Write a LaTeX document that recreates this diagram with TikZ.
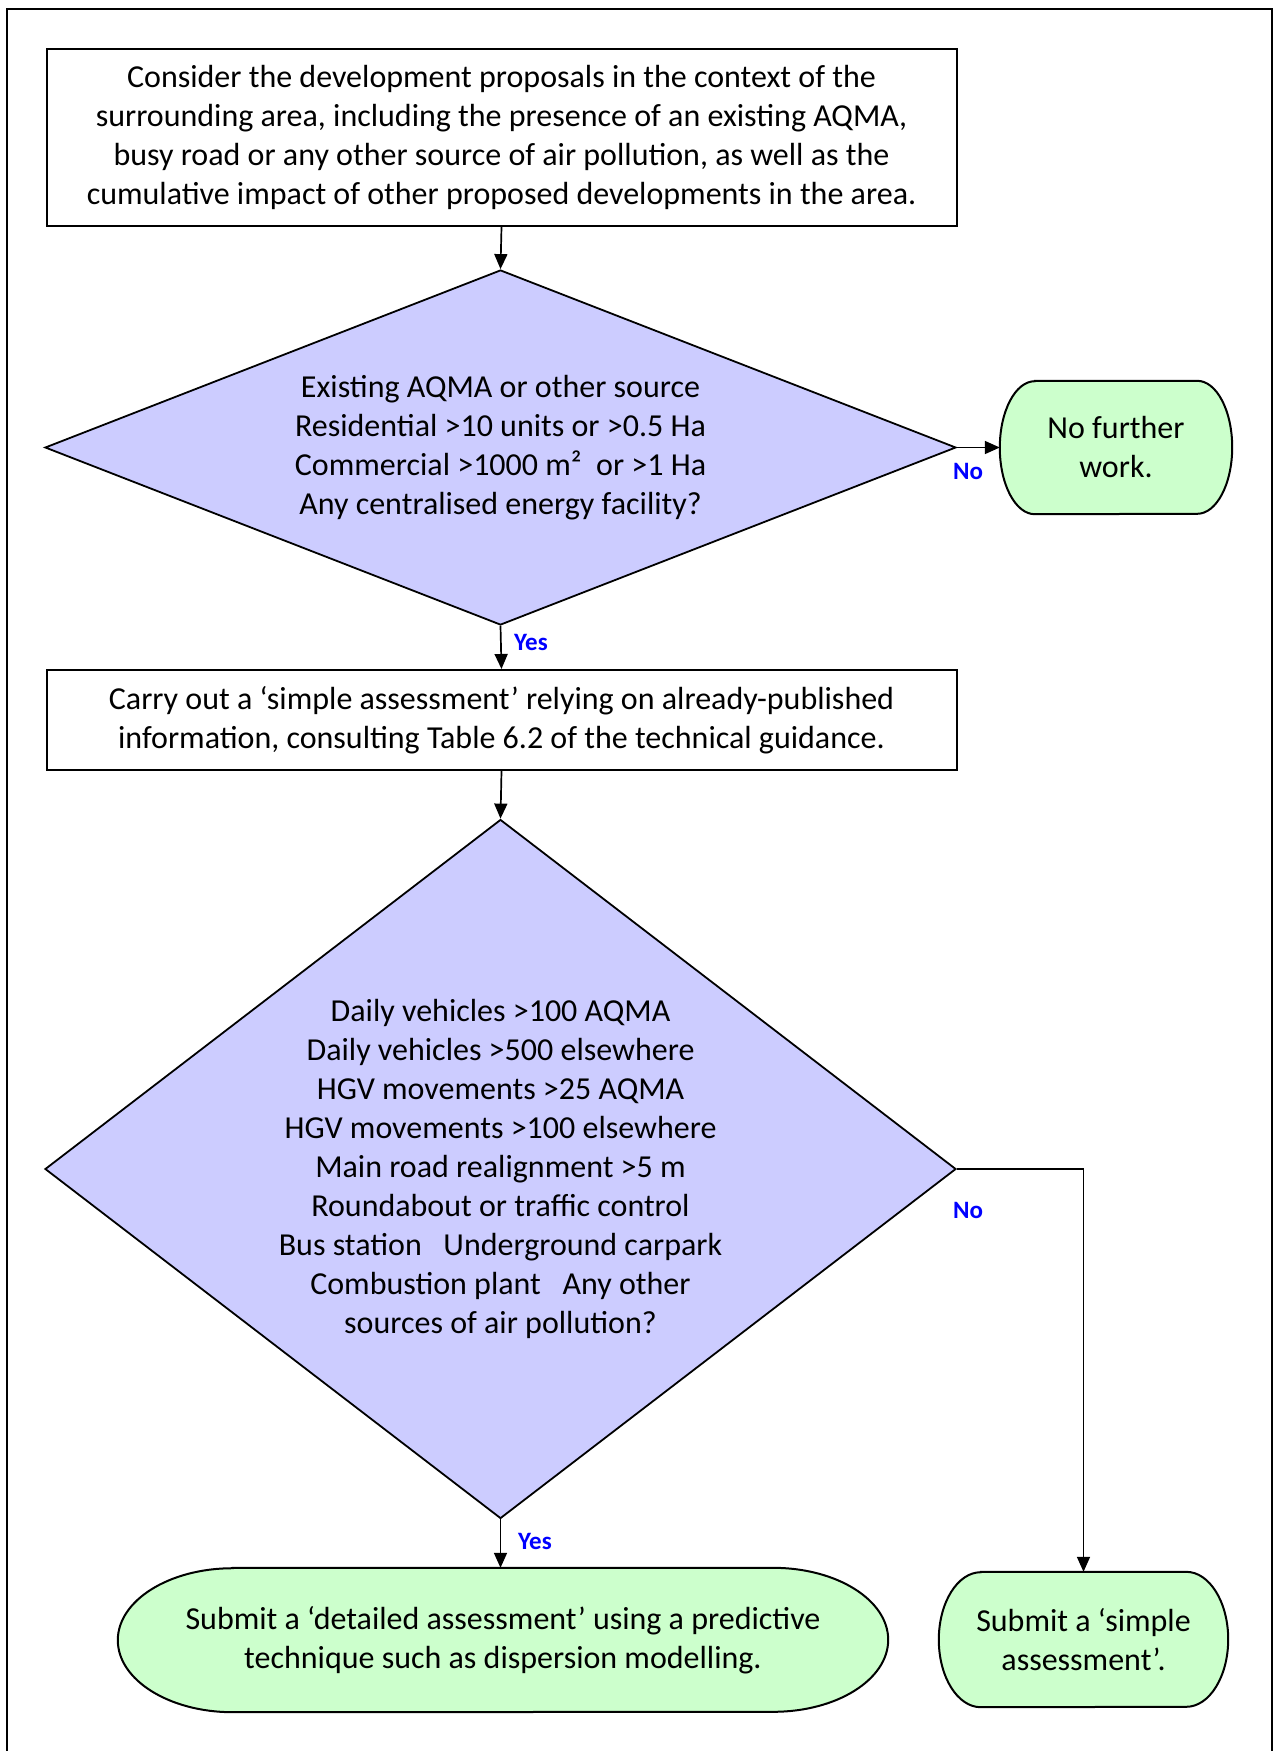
\documentclass[tikz,border=0pt]{standalone}
\usepackage{fontspec}
\setmainfont{Carlito}
\usetikzlibrary{shapes.geometric,arrows.meta,backgrounds}
\definecolor{dfill}{HTML}{CCCCFF}
\definecolor{tfill}{HTML}{CCFFCC}
\definecolor{lblue}{HTML}{0000FF}
\tikzset{
  procbox/.style={draw=black,line width=2pt,fill=white,inner sep=0pt,align=center,
    font=\fontsize{32}{39}\selectfont},
  decis/.style={diamond,draw=black,line width=1.8pt,fill=dfill,inner sep=0pt},
  dtext/.style={align=center,inner sep=0pt,font=\fontsize{32}{39}\selectfont},
  termnode/.style={inner sep=0pt,align=center,font=\fontsize{32}{39}\selectfont},
  termline/.style={draw=black,line width=2pt,fill=tfill},
  conn/.style={draw=black,line width=1.7pt,-{Triangle[length=15pt,width=13pt]}},
  plainline/.style={draw=black,line width=1.7pt},
  lbl/.style={text=lblue,font=\fontsize{25}{30}\selectfont\bfseries,inner sep=0pt},
}
\newcommand\termshape[3]{%
  \draw[termline] ([xshift=#2]#1.north west) -- ([xshift=-#2]#1.north east)
    arc[start angle=90,end angle=-90,x radius=#2,y radius=#3]
    -- ([xshift=#2]#1.south west)
    arc[start angle=270,end angle=90,x radius=#2,y radius=#3] -- cycle;}
\begin{document}
\begin{tikzpicture}[x=1pt,y=-1pt]
\useasboundingbox (0,0) rectangle (1275,1751);
% outer frame (open at the bottom)
\draw[line width=2.7pt] (7,1760) -- (7,9) -- (1272,9) -- (1272,1760);

% boxes
\node[procbox,minimum width=910pt,minimum height=177pt] (b1) at (501.5,137.5)
 {Consider the development proposals in the context of the\\
  surrounding area, including the presence of an existing AQMA,\\
  busy road or any other source of air pollution, as well as the\\
  cumulative impact of other proposed developments in the area.};

\node[decis,minimum width=911pt,minimum height=355pt] (d1) at (500.5,447.5) {};
\node[dtext] (d1t) at (d1.center)
 {Existing AQMA or other source\\
  Residential >10 units or >0.5 Ha\\
  Commercial >1000 m²\ \ or >1 Ha\\
  Any centralised energy facility?};

\node[termnode,minimum width=232pt,minimum height=133pt] (nfw) at (1116,447.5)
 {No further\\work.};

\node[procbox,minimum width=910pt,minimum height=100pt] (b2) at (501.5,720)
 {Carry out a ‘simple assessment’ relying on already-published\\
  information, consulting Table 6.2 of the technical guidance.};

\node[decis,minimum width=911pt,minimum height=699pt] (d2) at (500.5,1169) {};
\node[dtext] (d2t) at (d2.center)
 {Daily vehicles >100 AQMA\\
  Daily vehicles >500 elsewhere\\
  HGV movements >25 AQMA\\
  HGV movements >100 elsewhere\\
  Main road realignment >5 m\\
  Roundabout or traffic control\\
  Bus station\ \ \ Underground carpark\\
  Combustion plant\ \ \ Any other\\
  sources of air pollution?};

\node[termnode,minimum width=770pt,minimum height=144pt] (det) at (503,1640)
 {Submit a ‘detailed assessment’ using a predictive\\
  technique such as dispersion modelling.};

\node[termnode,minimum width=289pt,minimum height=135pt] (sim) at (1083.5,1639.5)
 {Submit a ‘simple\\assessment’.};

\begin{scope}[on background layer]
  \termshape{nfw}{35pt}{66.5pt}
  \termshape{det}{115pt}{72pt}
  \termshape{sim}{42pt}{67.5pt}
\end{scope}

% connectors
\draw[conn] (b1.south) -- (d1.north);
\draw[conn] (d1.east) -- (nfw.west);
\draw[conn] (d1.south) -- (b2.north);
\draw[conn] (b2.south) -- (d2.north);
\draw[conn] (d2.south) -- (d2.south |- det.north);
\draw[conn] (d2.east) -| (sim.north);

% labels
\node[lbl] (lno1) at (968,471) {No};
\node[lbl] (lyes1) at (531,642) {Yes};
\node[lbl] (lno2) at (968,1210) {No};
\node[lbl] (lyes2) at (535,1541) {Yes};
\end{tikzpicture}
\end{document}
